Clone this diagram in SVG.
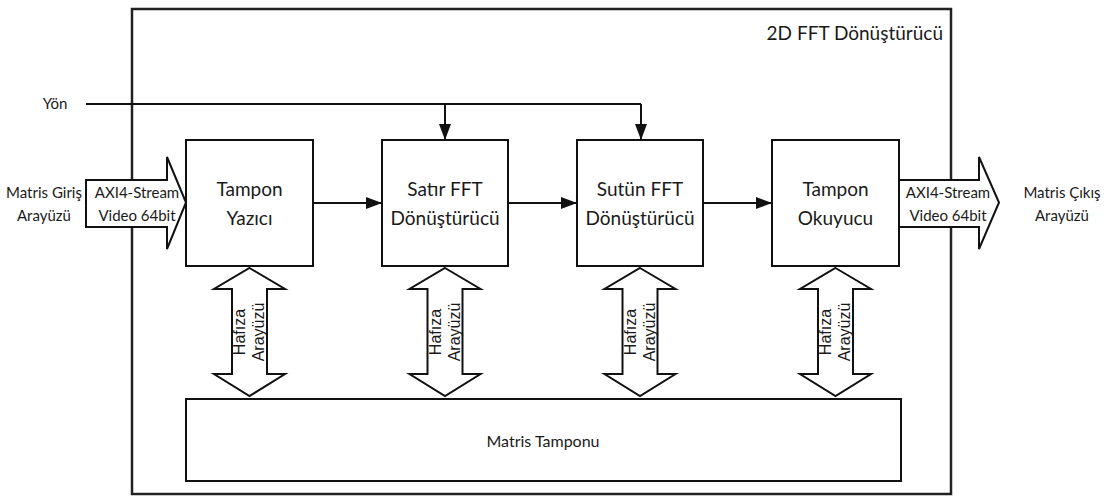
<svg xmlns="http://www.w3.org/2000/svg" width="1109" height="498" viewBox="0 0 1109 498">
<defs>
<style>
.box{fill:#fff;stroke:#111;stroke-width:2}
.frame{fill:none;stroke:#222;stroke-width:2.5}
.fat{fill:#fff;stroke:#111;stroke-width:2;stroke-linejoin:miter}
.ln{fill:none;stroke:#111;stroke-width:2}
.t{font-family:Lato,"Open Sans",sans-serif;fill:#1a1a1a;text-anchor:middle}
.big{font-size:19px}
.sm{font-size:15px}
.md{font-size:16px}
.mem{font-family:"Liberation Sans",Arial,sans-serif;font-size:16px;fill:#1a1a1a;text-anchor:middle}
</style>
<marker id="ah" viewBox="0 0 16 12" refX="16" refY="6" markerWidth="16" markerHeight="12" markerUnits="userSpaceOnUse" orient="auto">
<path d="M0,0 L16,6 L0,12 Z" fill="#111"/>
</marker>
</defs>
<rect width="1109" height="498" fill="#fff"/>

<g id="outer">
<rect class="frame" x="132" y="9" width="819" height="485"/>
<text class="t big" x="943" y="40" style="text-anchor:end">2D FFT Dönüştürücü</text>
</g>

<g id="connectors">
<polyline class="ln" points="86,104 641,104"/>
<line class="ln" x1="445" y1="104" x2="445" y2="140" marker-end="url(#ah)"/>
<line class="ln" x1="641" y1="104" x2="641" y2="140" marker-end="url(#ah)"/>
<line class="ln" x1="313" y1="203" x2="382" y2="203" marker-end="url(#ah)"/>
<line class="ln" x1="508" y1="203" x2="577" y2="203" marker-end="url(#ah)"/>
<line class="ln" x1="703" y1="203" x2="772" y2="203" marker-end="url(#ah)"/>
</g>

<g id="yon">
<text class="t sm" x="55" y="109">Yön</text>
</g>

<g id="input">
<text class="t sm" x="44" y="198">Matris Giriş</text>
<text class="t sm" x="44" y="221">Arayüzü</text>
<path class="fat" d="M86,180 L167,180 L167,157 L186,202.5 L167,249 L167,227 L86,227 Z"/>
<text class="t sm" x="137" y="198">AXI4-Stream</text>
<text class="t sm" x="137" y="221">Video 64bit</text>
</g>

<g id="output">
<path class="fat" d="M898,180 L979,180 L979,157 L999,202.5 L979,249 L979,227 L898,227 Z"/>
<text class="t sm" x="948" y="198">AXI4-Stream</text>
<text class="t sm" x="948" y="221">Video 64bit</text>
<text class="t sm" x="1062" y="198">Matris Çıkış</text>
<text class="t sm" x="1062" y="221">Arayüzü</text>
</g>

<g id="tampon-yazici">
<rect class="box" x="186" y="140" width="127" height="126"/>
<text class="t big" x="249.5" y="196">Tampon</text>
<text class="t big" x="249.5" y="225">Yazıcı</text>
</g>

<g id="satir-fft">
<rect class="box" x="382" y="140" width="126" height="126"/>
<text class="t big" x="445" y="196">Satır FFT</text>
<text class="t big" x="445" y="225">Dönüştürücü</text>
</g>

<g id="sutun-fft">
<rect class="box" x="577" y="140" width="126" height="126"/>
<text class="t big" x="640" y="196">Sutün FFT</text>
<text class="t big" x="640" y="225">Dönüştürücü</text>
</g>

<g id="tampon-okuyucu">
<rect class="box" x="772" y="140" width="127" height="126"/>
<text class="t big" x="835.5" y="196">Tampon</text>
<text class="t big" x="835.5" y="225">Okuyucu</text>
</g>

<g id="matris-tamponu">
<rect class="box" x="186" y="399" width="715" height="82"/>
<text class="t md" x="543" y="447">Matris Tamponu</text>
</g>

<g id="mem1">
<path class="fat" d="M249.5,268 L285,289 L267,289 L267,374 L285,374 L249.5,396 L214,374 L232,374 L232,289 L214,289 Z"/>
<text class="mem" transform="translate(245,332) rotate(-90)">Hafıza</text>
<text class="mem" transform="translate(264,332) rotate(-90)">Arayüzü</text>
</g>
<g id="mem2">
<path class="fat" d="M445,268 L480.5,289 L462.5,289 L462.5,374 L480.5,374 L445,396 L409.5,374 L427.5,374 L427.5,289 L409.5,289 Z"/>
<text class="mem" transform="translate(440.5,332) rotate(-90)">Hafıza</text>
<text class="mem" transform="translate(459.5,332) rotate(-90)">Arayüzü</text>
</g>
<g id="mem3">
<path class="fat" d="M640,268 L675.5,289 L657.5,289 L657.5,374 L675.5,374 L640,396 L604.5,374 L622.5,374 L622.5,289 L604.5,289 Z"/>
<text class="mem" transform="translate(635.5,332) rotate(-90)">Hafıza</text>
<text class="mem" transform="translate(654.5,332) rotate(-90)">Arayüzü</text>
</g>
<g id="mem4">
<path class="fat" d="M835.5,268 L871,289 L853,289 L853,374 L871,374 L835.5,396 L800,374 L818,374 L818,289 L800,289 Z"/>
<text class="mem" transform="translate(831,332) rotate(-90)">Hafıza</text>
<text class="mem" transform="translate(850,332) rotate(-90)">Arayüzü</text>
</g>
</svg>
